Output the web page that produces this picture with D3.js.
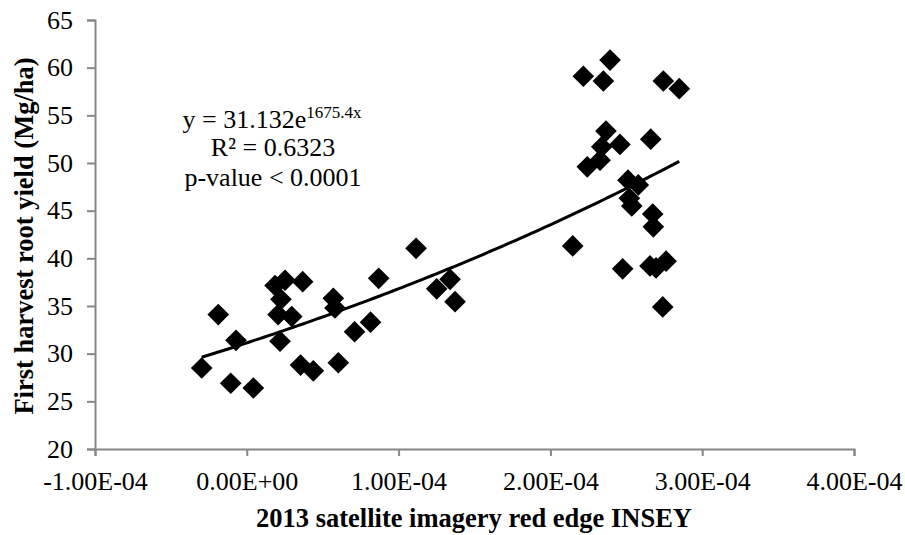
<!DOCTYPE html>
<html>
<head>
<meta charset="utf-8">
<script src="https://cdn.jsdelivr.net/npm/d3@7"></script>
<style>
  body { margin: 0; background: #fff; }
</style>
</head>
<body>
<div id="chart"></div>
<script>
// INSEY values (x) and first harvest root yield (y)
const insey = [
  -2.97e-5, -1.06e-5, 0.43e-5, -1.88e-5, -0.71e-5,
  1.86e-5, 2.52e-5, 3.68e-5, 2.25e-5, 2.06e-5, 2.96e-5, 2.19e-5,
  3.54e-5, 4.38e-5, 6.03e-5, 5.70e-5, 5.81e-5, 7.10e-5, 8.15e-5, 8.69e-5,
  1.115e-4, 1.251e-4, 1.339e-4, 1.372e-4,
  2.147e-4, 2.217e-4, 2.349e-4, 2.393e-4, 2.744e-4, 2.849e-4,
  2.366e-4, 2.458e-4, 2.338e-4, 2.327e-4, 2.243e-4, 2.661e-4,
  2.511e-4, 2.579e-4, 2.520e-4, 2.536e-4, 2.674e-4, 2.678e-4,
  2.476e-4, 2.656e-4, 2.696e-4, 2.762e-4, 2.740e-4
];
const yieldMg = [
  28.5, 26.9, 26.4, 34.1, 31.4,
  37.15, 37.7, 37.55, 35.7, 34.1, 33.9, 31.3,
  28.8, 28.2, 29.05, 35.8, 34.8, 32.3, 33.3, 37.9,
  41.05, 36.8, 37.8, 35.45,
  41.3, 59.1, 58.6, 60.8, 58.6, 57.8,
  53.35, 51.95, 51.7, 50.3, 49.6, 52.5,
  48.2, 47.7, 46.3, 45.5, 44.65, 43.3,
  38.9, 39.2, 39.0, 39.7, 34.9
];
const xTicks = [-1e-4, 0, 1e-4, 2e-4, 3e-4, 4e-4];
const yTicks = [20, 25, 30, 35, 40, 45, 50, 55, 60, 65];
// exponential trendline y = a * e^(b x)
const fitA = 31.132, fitB = 1675.4;
const eqLines = ["R² = 0.6323", "p-value < 0.0001"];

const FONT = "Liberation Serif";
const W = 905, H = 535;
const svg = d3.select("#chart").append("svg")
  .attr("width", W).attr("height", H)
  .attr("font-family", FONT);

const x = d3.scaleLinear().domain([-1e-4, 4e-4]).range([95, 854]);
const y = d3.scaleLinear().domain([20, 65]).range([449, 20]);

function sci(v) {
  if (v === 0) return "0.00E+00";
  let e = Math.floor(Math.log10(Math.abs(v)) + 1e-9);
  let m = v / Math.pow(10, e);
  let es = (e < 0 ? "-" : "+") + String(Math.abs(e)).padStart(2, "0");
  return m.toFixed(2) + "E" + es;
}

const axisColor = "#868686";

const gx = svg.append("g").attr("transform", `translate(0,${y(20)})`)
  .call(d3.axisBottom(x).tickValues(xTicks).tickFormat(sci).tickSizeOuter(0).tickSize(7).tickPadding(16));
const gy = svg.append("g").attr("transform", `translate(${x(-1e-4)},0)`)
  .call(d3.axisLeft(y).tickValues(yTicks).tickSizeOuter(0).tickSize(8).tickPadding(14));

[gx, gy].forEach(g => {
  g.attr("font-family", FONT).attr("font-size", 26);
  g.select(".domain").attr("stroke", axisColor).attr("stroke-width", 2);
  g.selectAll(".tick line").attr("stroke", axisColor).attr("stroke-width", 2);
  g.selectAll(".tick text").attr("fill", "#000");
});

// trendline
const xMin = d3.min(insey), xMax = d3.max(insey);
const curve = d3.range(0, 101).map(i => {
  const xv = xMin + (xMax - xMin) * i / 100;
  return [xv, fitA * Math.exp(fitB * xv)];
});
svg.append("path")
  .datum(curve)
  .attr("fill", "none")
  .attr("stroke", "#000")
  .attr("stroke-width", 3)
  .attr("d", d3.line().x(d => x(d[0])).y(d => y(d[1])));

// points as diamonds
const sym = d3.symbol().type(d3.symbolSquare).size(235);
svg.append("g").selectAll("path")
  .data(insey.map((v, i) => [v, yieldMg[i]]))
  .join("path")
  .attr("d", sym)
  .attr("fill", "#000")
  .attr("transform", d => `translate(${x(d[0])},${y(d[1])}) rotate(45)`);

// equation text
const eq = svg.append("text").attr("x", 272).attr("y", 128)
  .attr("text-anchor", "middle").attr("font-size", 26);
eq.append("tspan").text("y = 31.132e");
eq.append("tspan").attr("dy", -10).attr("font-size", 17).text("1675.4x");
eqLines.forEach((t, i) => {
  svg.append("text").attr("x", 273).attr("y", 156 + i * 29.5)
    .attr("text-anchor", "middle").attr("font-size", 26).text(t);
});

// axis titles
svg.append("text").attr("x", 474).attr("y", 527)
  .attr("text-anchor", "middle").attr("font-size", 26.5).attr("font-weight", "bold")
  .text("2013 satellite imagery red edge INSEY");
svg.append("text")
  .attr("transform", `translate(33,236) rotate(-90)`)
  .attr("text-anchor", "middle").attr("font-size", 26.5).attr("font-weight", "bold")
  .text("First harvest root yield (Mg/ha)");
</script>
</body>
</html>
